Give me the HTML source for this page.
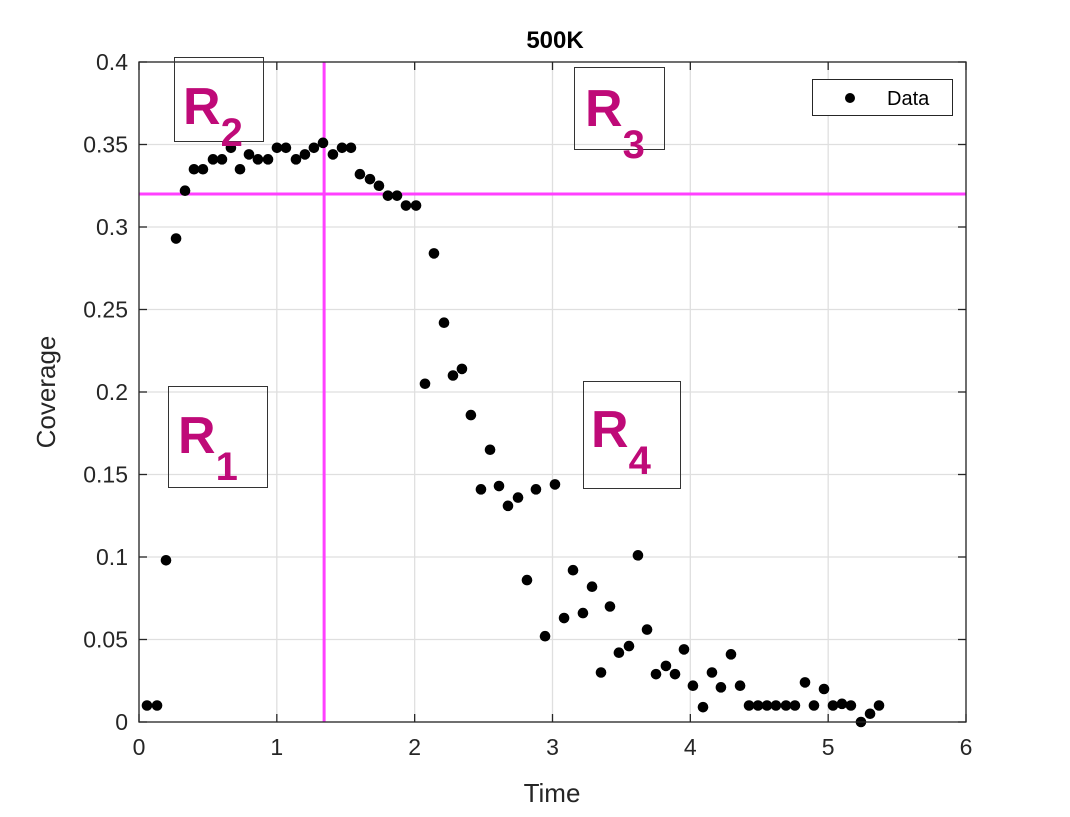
<!DOCTYPE html>
<html><head><style>
body{margin:0;background:#fff;}
svg text{font-family:"Liberation Sans",Arial,sans-serif;}
</style></head><body>
<svg id="chart" width="1070" height="812" xmlns="http://www.w3.org/2000/svg">
<g id="grid"></g>
<g id="lines"></g>
<g id="pts"></g>
<g id="axes"></g>
<text x="555" y="48" text-anchor="middle" font-size="24" font-weight="bold">500K</text>
<text x="552" y="802" text-anchor="middle" font-size="26" fill="#262626">Time</text>
<text transform="translate(55,392) rotate(-90)" text-anchor="middle" font-size="26" fill="#262626">Coverage</text>
<g>
<rect x="174.5" y="57.5" width="89" height="84" fill="none" stroke="#333" stroke-width="1"/>
<text x="183" y="124" font-size="52" font-weight="bold" fill="#bf0a78">R<tspan font-size="40" dy="22">2</tspan></text></g>
<g>
<rect x="574.5" y="67.5" width="90" height="82" fill="none" stroke="#333" stroke-width="1"/>
<text x="585" y="126" font-size="52" font-weight="bold" fill="#bf0a78">R<tspan font-size="40" dy="32">3</tspan></text></g>
<g>
<rect x="168.5" y="386.5" width="99" height="101" fill="none" stroke="#333" stroke-width="1"/>
<text x="178" y="453" font-size="52" font-weight="bold" fill="#bf0a78">R<tspan font-size="40" dy="27">1</tspan></text></g>
<g>
<rect x="583.5" y="381.5" width="97" height="107" fill="none" stroke="#333" stroke-width="1"/>
<text x="591" y="447" font-size="52" font-weight="bold" fill="#bf0a78">R<tspan font-size="40" dy="27">4</tspan></text></g>
<g>
<rect x="812.5" y="79.5" width="140" height="36" fill="#fff" stroke="#262626" stroke-width="1"/>
<circle cx="850" cy="98" r="5" fill="#000"/>
<text x="887" y="105" font-size="20">Data</text></g>
</svg>
<script>
const times=[0.058,0.131,0.196,0.269,0.334,0.399,0.464,0.537,0.602,0.667,0.733,0.798,0.863,0.936,1.001,1.066,1.139,1.204,1.269,1.335,1.407,1.473,1.538,1.603,1.676,1.741,1.806,1.872,1.937,2.010,2.075,2.140,2.213,2.278,2.343,2.408,2.481,2.547,2.612,2.677,2.750,2.815,2.880,2.946,3.018,3.084,3.149,3.221,3.287,3.352,3.417,3.482,3.555,3.620,3.686,3.751,3.823,3.889,3.954,4.019,4.092,4.157,4.222,4.295,4.361,4.426,4.491,4.556,4.621,4.694,4.759,4.832,4.897,4.970,5.035,5.100,5.165,5.238,5.304,5.369];
const coverage=[0.010,0.010,0.098,0.293,0.322,0.335,0.335,0.341,0.341,0.348,0.335,0.344,0.341,0.341,0.348,0.348,0.341,0.344,0.348,0.351,0.344,0.348,0.348,0.332,0.329,0.325,0.319,0.319,0.313,0.313,0.205,0.284,0.242,0.210,0.214,0.186,0.141,0.165,0.143,0.131,0.136,0.086,0.141,0.052,0.144,0.063,0.092,0.066,0.082,0.030,0.070,0.042,0.046,0.101,0.056,0.029,0.034,0.029,0.044,0.022,0.009,0.030,0.021,0.041,0.022,0.010,0.010,0.010,0.010,0.010,0.010,0.024,0.010,0.020,0.010,0.011,0.010,0.000,0.005,0.010];
const xTicks=[0,1,2,3,4,5,6];
const yTicks=[0,0.05,0.1,0.15,0.2,0.25,0.3,0.35,0.4];
const yTickLabels=["0","0.05","0.1","0.15","0.2","0.25","0.3","0.35","0.4"];
const vLine=1.343, hLine=0.32;
const X0=139,X1=966,Y0=722,Y1=62;
const sx=v=>X0+(v-0)/6*(X1-X0);
const sy=v=>Y0-(v/0.4)*(Y0-Y1);
const NS="http://www.w3.org/2000/svg";
function mk(p,tag,a){const e=document.createElementNS(NS,tag);for(const k in a)e.setAttribute(k,a[k]);p.appendChild(e);return e;}
const grid=document.getElementById('grid'),axes=document.getElementById('axes'),pts=document.getElementById('pts'),lines=document.getElementById('lines');
mk(grid,'rect',{x:X0,y:Y1,width:X1-X0,height:Y0-Y1,fill:'#fff'});
xTicks.forEach(t=>{
 const gl=mk(grid,'line',{x1:sx(t),x2:sx(t),y1:Y1,y2:Y0,stroke:'#dfdfdf','stroke-width':1.3});
 
 
 mk(axes,'line',{x1:sx(t),x2:sx(t),y1:Y0,y2:Y0-8,stroke:'#262626','stroke-width':1.3});
 mk(axes,'line',{x1:sx(t),x2:sx(t),y1:Y1,y2:Y1+8,stroke:'#262626','stroke-width':1.3});
 const tx=mk(axes,'text',{x:sx(t),y:Y0+33,'text-anchor':'middle','font-size':23,fill:'#262626'});
 tx.textContent=t;
 
 
});
yTicks.forEach((t,i)=>{
 const gl=mk(grid,'line',{x1:X0,x2:X1,y1:sy(t),y2:sy(t),stroke:'#dfdfdf','stroke-width':1.3});
 
 
 mk(axes,'line',{x1:X0,x2:X0+8,y1:sy(t),y2:sy(t),stroke:'#262626','stroke-width':1.3});
 mk(axes,'line',{x1:X1,x2:X1-8,y1:sy(t),y2:sy(t),stroke:'#262626','stroke-width':1.3});
 const tx=mk(axes,'text',{x:X0-11,y:sy(t)+8,'text-anchor':'end','font-size':23,fill:'#262626'});
 tx.textContent=yTickLabels[i];
 
 
});
mk(axes,'rect',{x:X0,y:Y1,width:X1-X0,height:Y0-Y1,fill:'none',stroke:'#262626','stroke-width':1.3});
const vl=mk(lines,'line',{x1:sx(vLine),x2:sx(vLine),y1:Y1,y2:Y0,stroke:'#ff40ff','stroke-width':3});


const hl=mk(lines,'line',{x1:X0,x2:X1,y1:sy(hLine),y2:sy(hLine),stroke:'#ff40ff','stroke-width':3});


times.forEach((t,i)=>{
 const c=mk(pts,'circle',{cx:sx(t),cy:sy(coverage[i]),r:5.3,fill:'#000'});
 
 
});
</script>
</body></html>
